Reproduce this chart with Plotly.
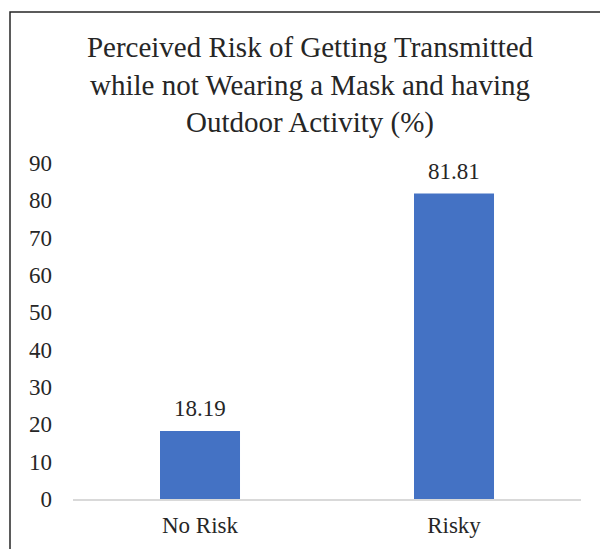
import plotly.graph_objects as go

categories = ["No Risk", "Risky"]
values = [18.19, 81.81]
value_labels = ["18.19", "81.81"]
y_ticks = [0, 10, 20, 30, 40, 50, 60, 70, 80, 90]

W, H = 600, 549
L, R, T, B = 73, 19, 163, 50
pw, ph = W - L - R, H - T - B

def px_x(x):
    return (x - L) / pw

def px_y(y):
    return (H - B - y) / ph

FONT = "'Liberation Serif', 'Times New Roman', 'DejaVu Serif', serif"
TXT = "#262626"

fig = go.Figure(go.Bar(
    x=categories, y=values,
    marker=dict(color="#4472C4", line=dict(width=0)),
    width=0.315,
))

for c, v, lab in zip(categories, values, value_labels):
    fig.add_annotation(
        x=c, y=v, text=lab, showarrow=False,
        xanchor="center", yanchor="bottom", yshift=8,
        font=dict(family=FONT, size=23, color=TXT),
    )

fig.update_layout(
    width=W, height=H,
    margin=dict(l=L, r=R, t=T, b=B, autoexpand=False),
    paper_bgcolor="white", plot_bgcolor="white",
    showlegend=False,
    title=dict(
        text="Perceived Risk of Getting Transmitted<br>while not Wearing a Mask and having<br>Outdoor Activity (%)",
        x=310 / W, xanchor="center", xref="container",
        y=1 - 57 / H, yanchor="top", yref="container",
        font=dict(family=FONT, size=29, color=TXT),
    ),
    font=dict(family=FONT, size=23, color=TXT),
    xaxis=dict(
        showline=True, linecolor="#D9D9D9", linewidth=1.5,
        showgrid=False, ticks="", ticklabelstandoff=5, automargin=False,
        tickfont=dict(family=FONT, size=23, color=TXT),
    ),
    yaxis=dict(
        range=[0, 90], tickvals=y_ticks, showgrid=False, zeroline=False,
        showline=False, ticks="", ticklabelstandoff=20, automargin=False,
        tickfont=dict(family=FONT, size=23, color=TXT),
    ),
    shapes=[dict(
        type="rect", xref="paper", yref="paper",
        x0=px_x(10), x1=px_x(620), y0=px_y(12), y1=px_y(570),
        line=dict(color=TXT, width=1.5), fillcolor="rgba(0,0,0,0)",
        layer="above",
    )],
)

fig.write_html(
    "out.html",
    config={"displayModeBar": False},
    post_script="document.body.style.margin='0';document.body.style.padding='0';",
)
